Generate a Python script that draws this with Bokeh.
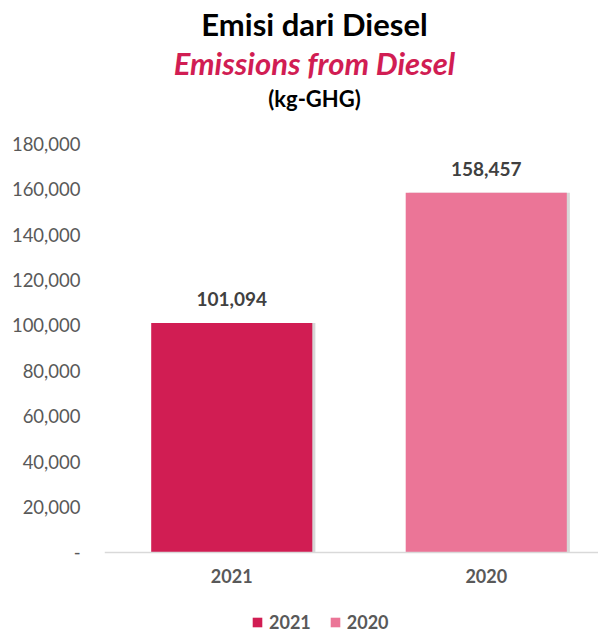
from bokeh.plotting import figure
from bokeh.models import (Range1d, FixedTicker, NumeralTickFormatter, Label, Legend,
                          LegendItem, ColumnDataSource)
from bokeh.core.properties import value
from bokeh.embed import file_html
from bokeh.resources import INLINE

# ---- data ----
categories = ["2021", "2020"]
emissions = [101094, 158457]
bar_colors = ["#D11D53", "#EB7597"]
y_ticks = [0, 20000, 40000, 60000, 80000, 100000, 120000, 140000, 160000, 180000]
title_id = "Emisi dari Diesel"
title_en = "Emissions from Diesel"
title_unit = "(kg-GHG)"

FONT = "Lato"
W, H = 598, 634
FL = 104   # frame left (page px); frame spans full height

x_pos = [i + 0.5 for i in range(len(categories))]
labels = [f"{v:,}" for v in emissions]
src = ColumnDataSource(dict(x=x_pos, top=emissions, color=bar_colors,
                            label=labels, cat=categories))

p = figure(width=W, height=H, output_backend="svg", toolbar_location=None,
           x_range=Range1d(0, 1.941), y_range=Range1d(-36114, 243107),
           min_border_left=FL, min_border_right=0, min_border_top=0,
           min_border_bottom=0)
p.outline_line_color = None
p.grid.grid_line_color = None
p.background_fill_color = "white"
p.border_fill_color = "white"

# shadow
shadow_src = ColumnDataSource(dict(x=[v + 0.012 for v in x_pos], top=emissions))
p.vbar(x="x", top="top", bottom=0, width=0.633, source=shadow_src,
       fill_color="#9a9a9a", fill_alpha=0.4, line_color=None)
bars = p.vbar(x="x", top="top", bottom=0, width=0.633, source=src,
              fill_color="color", line_color=None)

# data labels
p.text(x="x", y="top", text="label", source=src, text_align="center",
       text_baseline="bottom", y_offset=-17, text_font=value(FONT),
       text_font_style="bold", text_font_size="19px", text_color="#404040")

# y axis
p.yaxis.ticker = FixedTicker(ticks=y_ticks)
p.yaxis.formatter = NumeralTickFormatter(format="0,0")
p.yaxis.major_label_overrides = {0: "-"}
p.yaxis.axis_line_color = None
p.yaxis.major_tick_line_color = None
p.yaxis.minor_tick_line_color = None
p.yaxis.major_tick_out = 0
p.yaxis.major_label_standoff = 24
p.yaxis.major_label_text_font = FONT
p.yaxis.major_label_text_font_size = "18.5px"
p.yaxis.major_label_text_color = "#595959"

# x axis drawn at y = 0
p.xaxis.fixed_location = 0
p.xaxis.ticker = FixedTicker(ticks=x_pos)
p.xaxis.major_label_overrides = {x: c for x, c in zip(x_pos, categories)}
p.xaxis.axis_line_color = "#D9D9D9"
p.xaxis.axis_line_width = 1.5
p.xaxis.major_tick_line_color = None
p.xaxis.minor_tick_line_color = None
p.xaxis.major_tick_out = 0
p.xaxis.major_label_standoff = 17
p.xaxis.major_label_text_font = FONT
p.xaxis.major_label_text_font_style = "bold"
p.xaxis.major_label_text_font_size = "18px"
p.xaxis.major_label_text_color = "#595959"

# titles (screen units relative to the frame's lower-left corner)
def add_title(text, page_y, size, color, style):
    p.add_layout(Label(x=314 - FL, y=H - page_y, x_units="screen", y_units="screen",
                       text=text, text_align="center", text_baseline="middle",
                       text_font=FONT, text_font_size=size, text_color=color,
                       text_font_style=style))

add_title(title_id, 23, "31px", "#000000", "bold")
add_title(title_en, 62, "31px", "#D11D53", "bold italic")
add_title(title_unit, 98, "22px", "#000000", "bold")

# legend
legend = Legend(items=[LegendItem(label=c, renderers=[bars], index=i)
                       for i, c in enumerate(categories)],
                orientation="horizontal", location=(251 - FL, 1),
                label_text_font=FONT, label_text_font_style="bold",
                label_text_font_size="18px", label_text_color="#595959",
                glyph_width=12, glyph_height=12, spacing=18, label_standoff=6,
                padding=0, margin=0,
                border_line_color=None, background_fill_alpha=0)
p.add_layout(legend, "center")

open("out.html", "w").write(file_html(p, INLINE))
